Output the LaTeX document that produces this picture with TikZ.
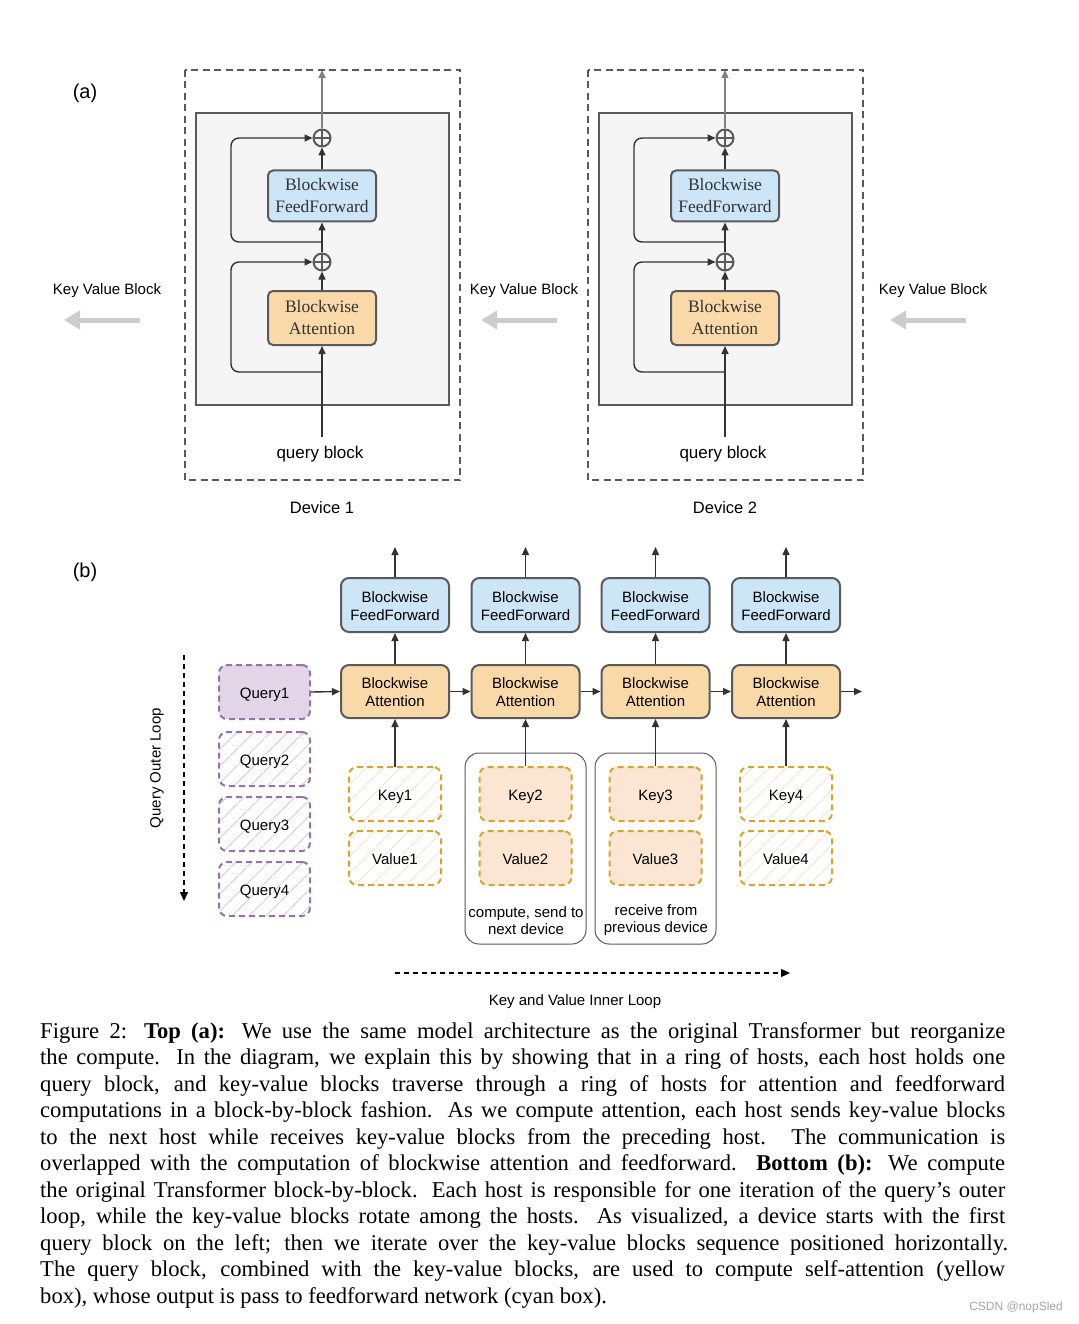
\documentclass[tikz,border=0pt]{standalone}
\usepackage{fontspec}
\setmainfont{Liberation Serif}
\setsansfont{Liberation Sans}
\usetikzlibrary{arrows.meta,patterns.meta}
\definecolor{ffblue}{HTML}{CCE5F7}
\definecolor{attor}{HTML}{FAD9A8}
\definecolor{qfill}{HTML}{E1D5E7}
\definecolor{qline}{HTML}{9673A6}
\definecolor{qhatch}{HTML}{CDC1DF}
\definecolor{kfill}{HTML}{FBE5D3}
\definecolor{kline}{HTML}{D6A431}
\definecolor{khatch}{HTML}{F8DCC0}
\definecolor{boxline}{HTML}{5A5A5A}
\definecolor{linec}{HTML}{333333}
\definecolor{kvgray}{HTML}{CCCCCC}
\definecolor{innerbg}{HTML}{F5F5F5}
\newcommand\lowtxt[2][2.5pt]{\raisebox{-#1}[\height][\depth]{\begin{tabular}{@{}c@{}}#2\end{tabular}}}
\begin{document}
\begin{tikzpicture}[x=1pt,y=-1pt,
  arw/.style={-{Triangle[length=8pt,width=7pt]}, draw=linec, line width=1.4pt},
  dashedarw/.style={-{Triangle[length=9pt,width=8pt]}, draw=black, line width=1.3pt, dash pattern=on 5pt off 4pt},
  kvarw/.style={-{Triangle[length=16pt,width=18pt]}, draw=kvgray, line width=5pt},
  dbox/.style={draw=boxline, line width=1.8pt, dash pattern=on 7pt off 4.5pt},
  ibox/.style={draw=boxline, fill=innerbg, line width=2pt},
  serbox/.style={draw=boxline, line width=2pt, rounded corners=5pt, inner sep=0pt,
     minimum width=108pt, minimum height=51pt, text=linec,
     font=\rmfamily\fontsize{17.5}{22}\selectfont},
  oplus/.style={circle, draw=boxline, line width=2pt, minimum size=17pt, inner sep=0pt, fill=innerbg,
     path picture={\draw[boxline, line width=2pt] (path picture bounding box.north) -- (path picture bounding box.south)
       (path picture bounding box.west) -- (path picture bounding box.east);}},
  sflab/.style={font=\sffamily\fontsize{15}{18}\selectfont, align=center, inner sep=0pt},
  bbox/.style={draw=boxline, line width=2pt, rounded corners=8pt, inner sep=0pt,
     minimum width=108pt, minimum height=54pt, font=\sffamily\fontsize{15}{18}\selectfont},
  qbox/.style={draw=qline, line width=2pt, dash pattern=on 6pt off 4pt, rounded corners=8pt, inner sep=0pt,
     minimum width=91pt, minimum height=54pt, font=\sffamily\fontsize{15}{18}\selectfont},
  kbox/.style={draw=kline, line width=2pt, dash pattern=on 6pt off 4pt, rounded corners=8pt, inner sep=0pt,
     minimum width=92pt, minimum height=54pt, font=\sffamily\fontsize{15}{18}\selectfont},
  qhat/.style={pattern={Lines[angle=45,distance=13pt,line width=1pt]}, pattern color=qhatch},
  khat/.style={pattern={Lines[angle=45,distance=13pt,line width=1pt]}, pattern color=khatch},
  grp/.style={draw=boxline, line width=1pt, rounded corners=14pt}
]
\useasboundingbox[fill=white] (0,0) rectangle (1078,1324);

% ---------------- (a)
\node[font=\sffamily\fontsize{20}{24}\selectfont, inner sep=0pt] (la) at (85,93.5) {(a)};

\foreach \d/\cx in {1/322,2/725}{
  \draw[dbox] (\cx-137,70) rectangle (\cx+138,480);
  \draw[ibox] (\cx-126,113) rectangle (\cx+127,405);
  \node[serbox, fill=ffblue] (ff\d) at (\cx,196) {\lowtxt[1pt]{Blockwise\\FeedForward}};
  \node[serbox, fill=attor, minimum height=54pt] (at\d) at (\cx,318) {\lowtxt[1pt]{Blockwise\\Attention}};
  \node[oplus] (pa\d) at (\cx,262) {};
  \node[oplus] (pb\d) at (\cx,138) {};
  \node[font=\sffamily\fontsize{17}{20}\selectfont, inner sep=0pt] (q\d) at (\cx-2,454) {query block};
  \node[font=\sffamily\fontsize{16.5}{20}\selectfont, inner sep=0pt] (dv\d) at (\cx,507.5) {Device \d};
  \coordinate (top\d) at (\cx,70);
  \coordinate (qs\d) at (\cx,437);
  \coordinate (s\d) at (\cx,372);
  \coordinate (t\d) at (\cx,242);
  \draw[arw] (qs\d) -- (at\d.south);
  \draw[arw] (at\d.north) -- (pa\d.south);
  \draw[arw] (pa\d.north) -- (ff\d.south);
  \draw[arw] (ff\d.north) -- (pb\d.south);
  \draw[arw, draw=gray] (pb\d.north) -- (top\d);
  \draw[arw, rounded corners=8pt] (s\d) -- (\cx-91,372) -- (\cx-91,262) -- (pa\d.west);
  \draw[arw, rounded corners=8pt] (t\d) -- (\cx-91,242) -- (\cx-91,138) -- (pb\d.west);
}

\node[sflab] (kv1) at (107,291) {Key Value Block};
\node[sflab] (kv2) at (524,291) {Key Value Block};
\node[sflab] (kv3) at (933,291) {Key Value Block};
\coordinate (kva1) at (140,320); \coordinate (kvb1) at (64,320);
\coordinate (kva2) at (557,320); \coordinate (kvb2) at (481,320);
\coordinate (kva3) at (966,320); \coordinate (kvb3) at (890,320);
\draw[kvarw] (kva1) -- (kvb1);
\draw[kvarw] (kva2) -- (kvb2);
\draw[kvarw] (kva3) -- (kvb3);

% ---------------- (b)
\node[font=\sffamily\fontsize{20}{24}\selectfont, inner sep=0pt] (lb) at (85,572.5) {(b)};

\draw[grp] (465,753) rectangle (586,944);
\draw[grp] (595,753) rectangle (716,944);
\node[sflab] (g1) at (526,920.5) {compute, send to\\[-1pt]next device};
\node[sflab] (g2) at (656,920.5) {receive from\\[-1pt]previous device};

\foreach \i/\x in {1/395,2/525.5,3/655.5,4/786}{
  \node[bbox, fill=ffblue] (bf\i) at (\x,605) {\lowtxt{Blockwise\\FeedForward}};
  \node[bbox, fill=attor, minimum height=53pt] (ba\i) at (\x,691.5) {\lowtxt{Blockwise\\Attention}};
  \coordinate (bo\i) at (\x,547);
  \draw[arw] (ba\i.north) -- (bf\i.south);
  \draw[arw] (bf\i.north) -- (bo\i);
}

\node[kbox, khat] (k1) at (395,794) {\lowtxt{Key1}};
\node[kbox, khat] (v1) at (395,858) {\lowtxt{Value1}};
\node[kbox, fill=kfill] (k2) at (525.5,794) {\lowtxt{Key2}};
\node[kbox, fill=kfill] (v2) at (525.5,858) {\lowtxt{Value2}};
\node[kbox, fill=kfill] (k3) at (655.5,794) {\lowtxt{Key3}};
\node[kbox, fill=kfill] (v3) at (655.5,858) {\lowtxt{Value3}};
\node[kbox, khat] (k4) at (786,794) {\lowtxt{Key4}};
\node[kbox, khat] (v4) at (786,858) {\lowtxt{Value4}};
\foreach \i in {1,2,3,4}{
  \draw[arw] (k\i.north) -- (ba\i.south);
}

\node[qbox, fill=qfill] (qq1) at (264.5,692) {\lowtxt{Query1}};
\node[qbox, qhat] (qq2) at (264.5,759) {\lowtxt{Query2}};
\node[qbox, qhat] (qq3) at (264.5,824) {\lowtxt{Query3}};
\node[qbox, qhat] (qq4) at (264.5,889) {\lowtxt{Query4}};

\coordinate (bend) at (862,691.5);
\draw[arw] (qq1.east) -- (ba1.west);
\draw[arw] (ba1.east) -- (ba2.west);
\draw[arw] (ba2.east) -- (ba3.west);
\draw[arw] (ba3.east) -- (ba4.west);
\draw[arw] (ba4.east) -- (bend);

\coordinate (ol1) at (184,655); \coordinate (ol2) at (184,901);
\draw[dashedarw] (ol1) -- (ol2);
\node[sflab, rotate=90] (olt) at (157,768) {Query Outer Loop};

\coordinate (il1) at (395,973); \coordinate (il2) at (790,973);
\draw[dashedarw] (il1) -- (il2);
\node[sflab] (ilt) at (575,1001.5) {Key and Value Inner Loop};

% ---------------- caption
\begin{scope}[every node/.style={anchor=base west, inner sep=0pt, font=\rmfamily\fontsize{22.6}{27}\selectfont}]
\node (c1) at (40,1038) {\makebox[965pt][s]{Figure 2: \textbf{Top (a):} We use the same model architecture as the original Transformer but reorganize}};
\node (c2) at (40,1064.5) {\makebox[965pt][s]{the compute. In the diagram, we explain this by showing that in a ring of hosts, each host holds one}};
\node (c3) at (40,1091) {\makebox[965pt][s]{query block, and key-value blocks traverse through a ring of hosts for attention and feedforward}};
\node (c4) at (40,1117.5) {\makebox[965pt][s]{computations in a block-by-block fashion. As we compute attention, each host sends key-value blocks}};
\node (c5) at (40,1144) {\makebox[965pt][s]{to the next host while receives key-value blocks from the preceding host. The communication is}};
\node (c6) at (40,1170.5) {\makebox[965pt][s]{overlapped with the computation of blockwise attention and feedforward. \textbf{Bottom (b):} We compute}};
\node (c7) at (40,1197) {\makebox[965pt][s]{the original Transformer block-by-block. Each host is responsible for one iteration of the query’s outer}};
\node (c8) at (40,1223.5) {\makebox[965pt][s]{loop, while the key-value blocks rotate among the hosts. As visualized, a device starts with the first}};
\node (c9) at (40,1250) {\makebox[968pt][s]{query block on the left; then we iterate over the key-value blocks sequence positioned horizontally.}};
\node (c10) at (40,1276.5) {\makebox[965pt][s]{The query block, combined with the key-value blocks, are used to compute self-attention (yellow}};
\node (c11) at (40,1303) {box), whose output is pass to feedforward network (cyan box).};
\end{scope}

\node[font=\sffamily\fontsize{12}{14}\selectfont, text=gray!70, anchor=east, inner sep=0pt] (wm) at (1063,1307) {CSDN @nopSled};
\end{tikzpicture}
\end{document}
